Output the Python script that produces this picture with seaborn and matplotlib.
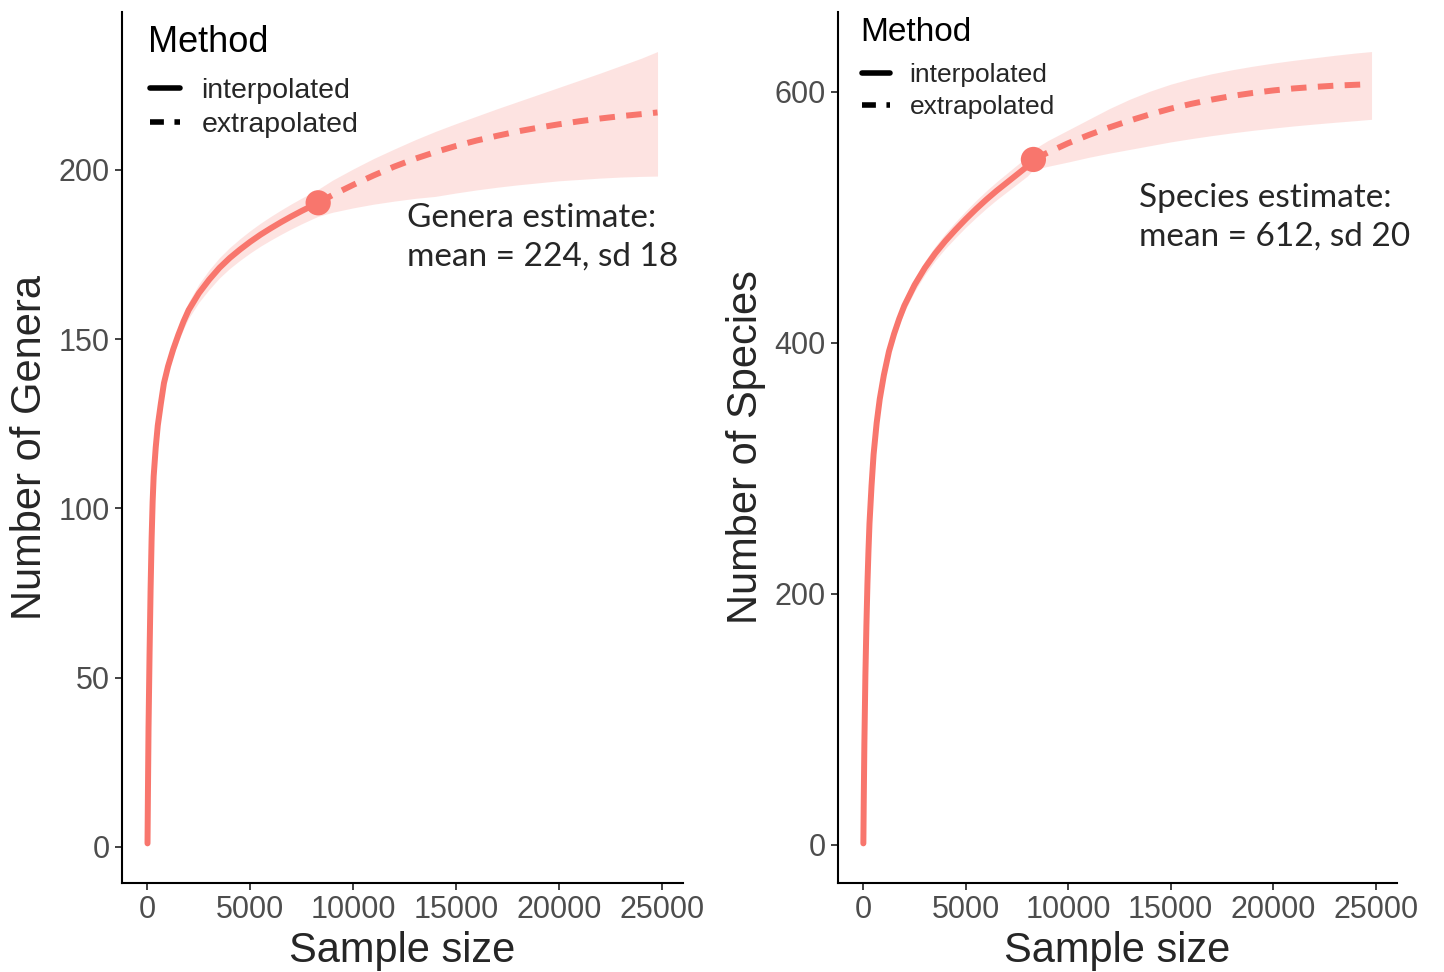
import numpy as np
import pandas as pd
import matplotlib
matplotlib.use('Agg')
import matplotlib.pyplot as plt
import seaborn as sns
from matplotlib.lines import Line2D

# sample sizes, shared by both panels
size_interp = [1, 20, 50, 100, 150, 200, 250, 300, 400, 500, 650, 800, 1000, 1250, 1500,
               1750, 2000, 2500, 3000, 3500, 4000, 4500, 5000, 5500, 6000, 6500, 7000,
               7500, 8000, 8300]
size_extrap = [8300, 9000, 10000, 11000, 12000, 13000, 14000, 15000, 16000, 17000,
               18000, 19000, 20000, 21000, 22000, 23000, 24000, 24800]

# genera curve
genera_interp = [1, 15, 35, 57, 76, 91, 102, 109.5, 118, 124.5, 131, 137, 142, 147, 151.3,
                 155.2, 158.6, 163.6, 167.6, 171.1, 174.0, 176.5, 178.8, 180.9, 182.8,
                 184.6, 186.3, 187.9, 189.4, 190.3]
genera_interp_hw = [0, 0.2, 0.3, 0.5, 0.6, 0.7, 0.8, 0.9, 1.0, 1.1, 1.3, 1.4, 1.6, 1.8, 2.0,
                    2.2, 2.4, 2.7, 2.9, 3.0, 3.1, 3.2, 3.3, 3.4, 3.5, 3.6, 3.7, 3.8, 3.9, 4.0]
genera_extrap = [190.3, 192.6, 195.6, 198.4, 201, 203.3, 205.3, 207.1, 208.7, 210.1,
                 211.4, 212.5, 213.5, 214.4, 215.2, 215.9, 216.5, 217]
genera_extrap_lo = [186.3, 187.5, 188.8, 189.9, 190.8, 191.6, 192.2, 193.2, 194.1, 194.9,
                    195.6, 196.2, 196.8, 197.2, 197.6, 197.9, 198.1, 198.2]
genera_extrap_hi = [194.3, 197, 200.3, 203.4, 206.2, 208.9, 211.4, 213.7, 215.9, 218.1,
                    220.2, 222.3, 224.4, 226.5, 228.6, 230.8, 233, 235]

# species curve
species_interp = [1, 35, 80, 135, 175, 208, 234, 256, 286, 311, 336, 355, 374, 393, 407,
                  419, 429.5, 446, 459.5, 471, 481, 490, 498.5, 506.5, 514, 521, 527.5,
                  534, 540.5, 546]
species_interp_hw = [0, 0.5, 1, 1.5, 1.8, 2, 2.2, 2.4, 2.7, 3, 3.3, 3.5, 3.8, 4.0, 4.3,
                     4.5, 4.8, 5.1, 5.4, 5.7, 6.0, 6.3, 6.5, 6.8, 7.0, 7.2, 7.4, 7.6, 7.8, 8.0]
species_extrap = [546, 551.5, 559, 565.5, 571.5, 577, 582, 586.5, 590.3, 593.7,
                  596.6, 599, 601, 602.6, 603.8, 604.8, 605.5, 606]
species_extrap_lo = [538, 540.5, 544, 547.7, 551, 554, 557, 560, 562.6, 565,
                     567.2, 569.2, 571, 572.7, 574.2, 575.6, 576.9, 578]
species_extrap_hi = [554, 561, 569.5, 578, 586.5, 594, 600.5, 606, 610.5, 614.3,
                     617.5, 620.3, 622.8, 625, 627, 629, 630.8, 632]

x_ticks = [0, 5000, 10000, 15000, 20000, 25000]
genera_ticks = [0, 50, 100, 150, 200]
species_ticks = [0, 200, 400, 600]
methods = ['interpolated', 'extrapolated']

RED = '#F8766D'

sns.set_theme(style='ticks')
plt.rcParams['font.family'] = ['Liberation Sans', 'DejaVu Sans']

fig = plt.figure(figsize=(14.44, 9.72), dpi=100)
ax1 = fig.add_axes([0.0845, 0.0916, 0.3885, 0.8961])
ax2 = fig.add_axes([0.5803, 0.0916, 0.3871, 0.8961])


def draw_panel(ax, mid_i, hw_i, mid_e, lo_e, hi_e, yticks, ylabel, note, note_xy,
               leg_fs, title_fs, leg_x, title_y, leg_y):
    df = pd.DataFrame({
        'size': size_interp + size_extrap,
        'richness': mid_i + mid_e,
        'Method': [methods[0]] * len(size_interp) + [methods[1]] * len(size_extrap),
    })
    band_x = np.r_[size_interp, size_extrap[1:]]
    band_lo = np.r_[np.subtract(mid_i, hw_i), lo_e[1:]]
    band_hi = np.r_[np.add(mid_i, hw_i), hi_e[1:]]
    ax.fill_between(band_x, band_lo, band_hi, color=RED, alpha=0.2, lw=0, zorder=1)

    sns.lineplot(data=df, x='size', y='richness', style='Method',
                 dashes={'interpolated': '', 'extrapolated': (2.6, 1.9)},
                 color=RED, lw=4.3, estimator=None, sort=False, legend=False,
                 ax=ax, zorder=3)
    sns.scatterplot(x=[size_interp[-1]], y=[mid_i[-1]], s=330, color=RED,
                    edgecolor='none', legend=False, ax=ax, zorder=4)

    # ggplot-like 5% expansion
    xr = max(band_x) - min(band_x)
    ax.set_xlim(min(band_x) - 0.05 * xr, max(band_x) + 0.05 * xr)
    yr = max(band_hi) - min(band_lo)
    ax.set_ylim(min(band_lo) - 0.05 * yr, max(band_hi) + 0.05 * yr)

    ax.set_xticks(x_ticks)
    ax.set_yticks(yticks)
    ax.tick_params(labelsize=22, labelcolor='#4D4D4D', length=5, width=1.3,
                   color='#333333', pad=4)
    ax.set_xlabel('Sample size', fontsize=30, labelpad=4)
    ax.set_ylabel(ylabel, fontsize=30, labelpad=6)
    for s in ['left', 'bottom']:
        ax.spines[s].set_linewidth(1.5)
        ax.spines[s].set_color('black')
    sns.despine(ax=ax)

    ax.text(note_xy[0], note_xy[1], note, fontsize=24, family=['Lato', 'DejaVu Sans'],
            ha='left', va='center', linespacing=1.35)

    # legend: title drawn as text so its gap to the keys can be set freely
    ax.text(leg_x - 0.003, title_y, 'Method', transform=ax.transAxes,
            fontsize=title_fs, ha='left', va='baseline', color='black')
    handles = [Line2D([], [], color='black', lw=4.0),
               Line2D([], [], color='black', lw=4.0, dashes=(2.5, 1.9))]
    ax.legend(handles, methods, loc='upper left', bbox_to_anchor=(leg_x, leg_y),
              frameon=False, fontsize=leg_fs, handlelength=1.05, handletextpad=0.75,
              labelspacing=0.3, borderpad=0, borderaxespad=0)


draw_panel(ax1, genera_interp, genera_interp_hw, genera_extrap, genera_extrap_lo,
           genera_extrap_hi, genera_ticks, 'Number of Genera',
           'Genera estimate:\nmean = 224, sd 18', (12600, 180), 20.5, 26,
           0.05, 0.954, 0.9245)
draw_panel(ax2, species_interp, species_interp_hw, species_extrap, species_extrap_lo,
           species_extrap_hi, species_ticks, 'Number of Species',
           'Species estimate:\nmean = 612, sd 20', (13450, 500), 19, 24,
           0.043, 0.967, 0.941)

fig.savefig('out.png', dpi=100)
